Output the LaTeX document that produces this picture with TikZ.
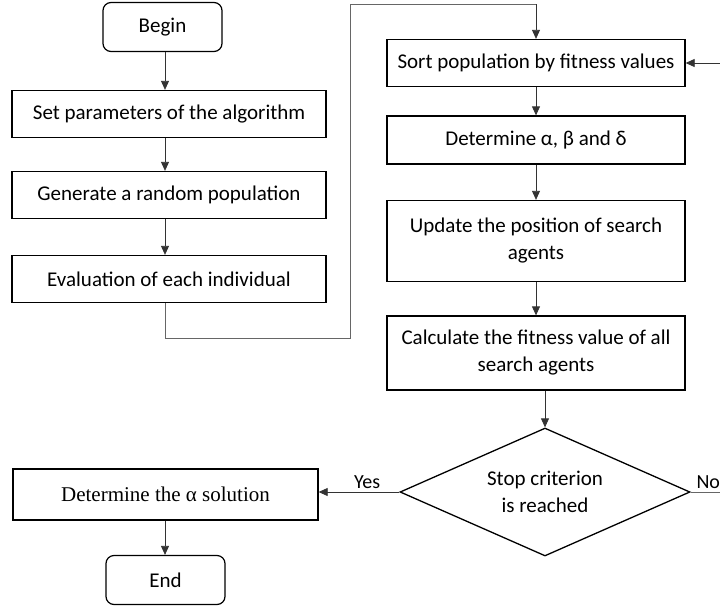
\documentclass[tikz,border=0pt]{standalone}
\usepackage{fontspec}
\setmainfont{Carlito}
\newfontfamily\serifalt{Liberation Serif}
\usetikzlibrary{arrows.meta,shapes.geometric}
\begin{document}
\begin{tikzpicture}[x=1pt,y=-1pt,
  every node/.style={font=\fontsize{21}{27}\selectfont},
  procbox/.style={draw,line width=1.3pt,minimum width=#1,align=center,inner sep=2pt},
  procbox/.default=314pt,
  termbox/.style={draw,line width=1.2pt,rounded corners=8pt,minimum width=119pt,minimum height=49pt},
  conn/.style={draw=black!80,line width=0.8pt,-{Triangle[length=9pt,width=8pt]}},
  plain/.style={draw=black!60,line width=0.8pt},
  lbl/.style={font=\fontsize{20}{24}\selectfont}
]
\useasboundingbox (0,0) rectangle (720,608);
\node[termbox] (begin) at (162.5,27) {Begin};
\node[procbox,minimum height=47pt] (setp) at (169,114) {Set parameters of the algorithm};
\node[procbox,minimum height=47pt] (gen) at (169,195) {Generate a random population};
\node[procbox,minimum height=47pt] (eval) at (169,279) {Evaluation of each individual};
\node[procbox=298pt,minimum height=47pt] (sort) at (536,63) {Sort population by fitness values};
\node[procbox=298pt,minimum height=48pt] (det) at (536,140) {Determine α, β and δ};
\node[procbox=298pt,minimum height=81pt] (upd) at (536,241) {Update the position of search\\agents};
\node[procbox=298pt,minimum height=74pt] (calc) at (536,353) {Calculate the fitness value of all\\search agents};
\node[draw,line width=1.3pt,diamond,aspect=2.27,minimum width=290pt,minimum height=128pt,inner sep=0pt,align=center] (stop) at (545,492) {Stop criterion\\is reached};
\node[procbox=305pt,minimum height=51pt,font=\fontsize{21}{26}\selectfont\serifalt] (sol) at (165.5,494.5) {Determine the α solution};
\node[termbox] (end) at (165.5,580) {End};
\coordinate (lx) at (165,0);
\coordinate (c1) at (165,338);
\coordinate (c2) at (350,338);
\coordinate (c3) at (350,4);
\coordinate (c4) at (sort.north |- 0,4);
\coordinate (noend) at (720,492);
\coordinate (fb) at (720,63);
\draw[conn] (begin.south -| lx) -- (setp.north -| lx);
\draw[conn] (setp.south -| lx) -- (gen.north -| lx);
\draw[conn] (gen.south -| lx) -- (eval.north -| lx);
\draw[plain] (eval.south -| c1) -- (c1) -- (c2) -- (c3) -- (c4);
\draw[conn] (c4) -- (sort);
\draw[conn] (sort) -- (det);
\draw[conn] (det) -- (upd);
\draw[conn] (upd) -- (calc);
\draw[conn] (calc.south -| stop.north) -- (stop);
\draw[conn] (stop.west) -- node[above,pos=0.4,lbl]{Yes} (sol.east |- stop.west);
\draw[plain] (stop.east) -- node[above,pos=0.6,lbl]{No} (noend);
\draw[conn] (fb) -- (sort.east);
\draw[conn] (sol.south -| lx) -- (end.north -| lx);
\end{tikzpicture}
\end{document}
